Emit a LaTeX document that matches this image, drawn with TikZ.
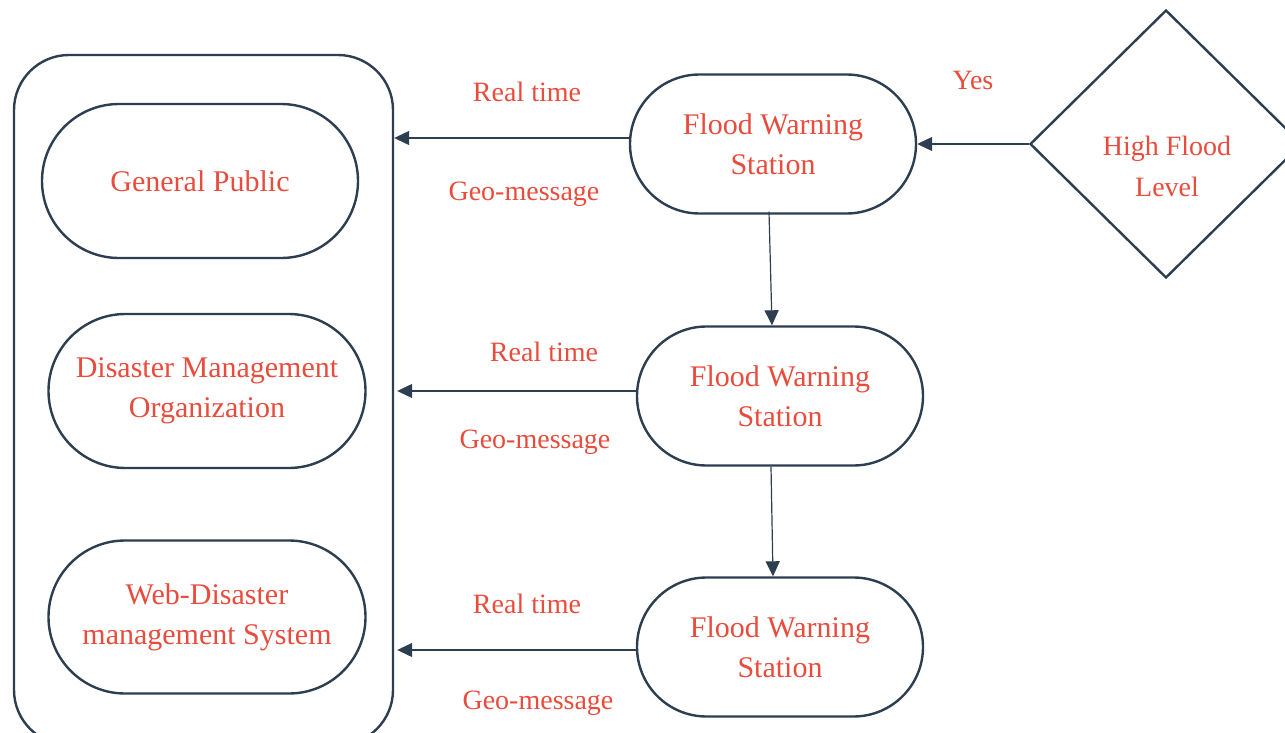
\documentclass[tikz,border=0pt]{standalone}
\usepackage{fontspec}
\setmainfont{Liberation Serif}
\usetikzlibrary{shapes.geometric,shapes.misc,arrows.meta}
\definecolor{navy}{HTML}{2C3E50}
\definecolor{txtred}{HTML}{E74C3C}
\begin{document}
\begin{tikzpicture}[x=1pt,y=-1pt,
  stad/.style={rounded rectangle, draw=navy, line width=2.4pt, align=center,
    text=txtred, font=\fontsize{30}{40}\selectfont, inner sep=0pt},
  lbl/.style={text=txtred, font=\fontsize{28}{34}\selectfont, inner sep=0pt, anchor=base},
  conn/.style={draw=navy, line width=1.2pt, -{Triangle[length=15pt,width=14pt]}}
]
\useasboundingbox (0,0) rectangle (1285,733);
\clip (0,0) rectangle (1285,733);

% outer container
\node[draw=navy, line width=2.4pt, rounded corners=55pt, minimum width=379pt, minimum height=690pt, inner sep=0pt] (outer) at (203.5,400) {};

% receivers
\node[stad, minimum width=316pt, minimum height=154pt] (gp) at (200,181) {General Public};
\node[stad, minimum width=317pt, minimum height=154pt] (dmo) at (207,391) {Disaster Management\\Organization};
\node[stad, minimum width=317pt, minimum height=153pt] (wds) at (207,617) {Web-Disaster\\management System};

% stations
\node[stad, minimum width=286pt, minimum height=139pt] (f1) at (773,144) {Flood Warning\\Station};
\node[stad, minimum width=286pt, minimum height=139pt] (f2) at (780,396) {Flood Warning\\Station};
\node[stad, minimum width=286pt, minimum height=139pt] (f3) at (780,647) {Flood Warning\\Station};

% decision
\node[diamond, draw=navy, line width=2.4pt, minimum width=272pt, minimum height=268pt, inner sep=0pt] (dia) at (1166,144) {};
\node[text=txtred, align=center, font=\fontsize{28}{41}\selectfont, inner sep=0pt] (dtext) at (1167,166) {High Flood\\Level};

% connectors
\draw[conn] (dia.west) -- (f1.east);

\coordinate (a1) at ([yshift=6pt]f1.west);
\coordinate (a2) at ([yshift=5pt]f2.west);
\coordinate (a3) at ([yshift=-3pt]f3.west);
\coordinate (e2) at ([xshift=3pt]outer.east);
\draw[conn] (a1) -- (a1 -| outer.east);
\draw[conn] (a2) -- (a2 -| e2);
\draw[conn] (a3) -- (a3 -| e2);

\draw[conn] ([xshift=-4pt,yshift=3pt]f1.south) -- ([xshift=-8pt]f2.north);
\draw[conn] ([xshift=-9pt]f2.south) -- ([xshift=-7pt]f3.north);

% labels
\node[lbl] (yes) at (973,90) {Yes};
\node[lbl] (rt1) at (527,102) {Real time};
\node[lbl] (gm1) at (524,200) {Geo-message};
\node[lbl] (rt2) at (544,361) {Real time};
\node[lbl] (gm2) at (535,448) {Geo-message};
\node[lbl] (rt3) at (527,613) {Real time};
\node[lbl] (gm3) at (538,709) {Geo-message};
\end{tikzpicture}
\end{document}
